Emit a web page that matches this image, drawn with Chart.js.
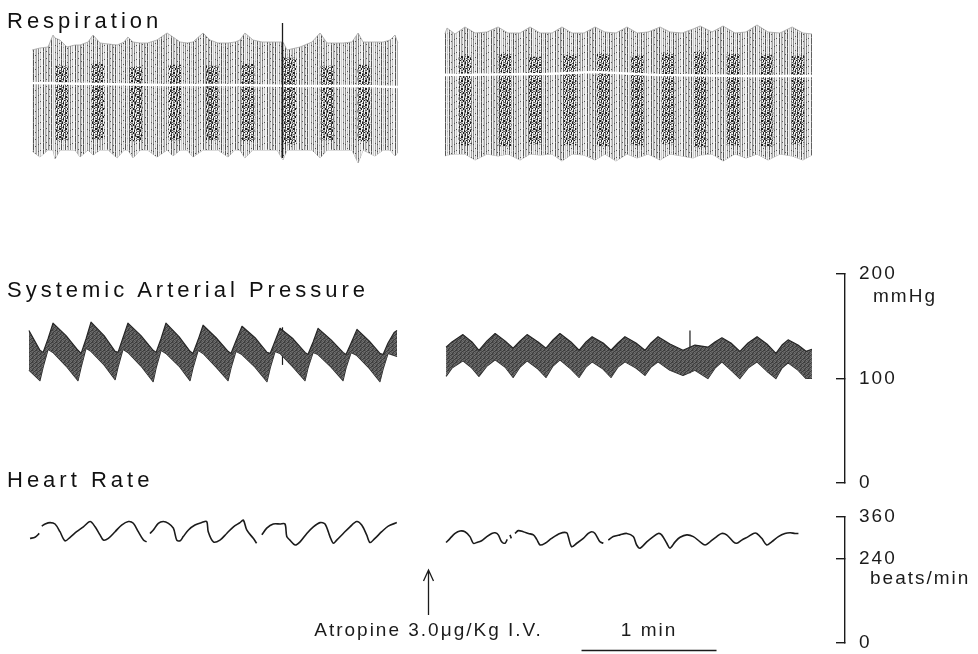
<!DOCTYPE html>
<html lang="en">
<head>
    <meta charset="UTF-8">
    <title>Atropine 3.0 μg/kg I.V. - respiration, arterial pressure, heart rate</title>
    <script src="https://cdn.jsdelivr.net/npm/chart.js"></script>
    <style>
* {
    margin: 0;
    padding: 0;
    box-sizing: border-box;
}

html, body {
    width: 978px;
    height: 654px;
    background: #fff;
    overflow: hidden;
}

body {
    position: relative;
    font-family: 'Liberation Sans', Arial, sans-serif;
    color: #111;
}

.trace {
    position: absolute;
    left: 0;
}

/* row titles, wide-spaced like the original typewriter lettering */
.label {
    position: absolute;
    left: 7px;
    font-size: 22px;
    line-height: 22px;
    letter-spacing: 4px;
    white-space: nowrap;
    z-index: 2;
}
    </style>
</head>

<body>
    <div class="label" style="top:10px">Respiration</div>
    <div class="label" style="top:279px">Systemic Arterial Pressure</div>
    <div class="label" style="top:469px">Heart Rate</div>

    <canvas id="respChart" class="trace" style="top:0" width="978" height="180"></canvas>
    <canvas id="bpChart" class="trace" style="top:250px" width="978" height="250"></canvas>
    <canvas id="hrChart" class="trace" style="top:500px" width="978" height="154"></canvas>

    <script>
        // time is in seconds from the start of the record, 1 min = 60
        const T_MIN = -8.9;
        const T_MAX = 363.1;
        const INJECTION_TIME = 177.8;
        const INJECTION_TEXT = 'Atropine 3.0μg/Kg I.V.';
        const BAR_START = 246;
        const BAR_LENGTH = 60;
        const BAR_TEXT = '1 min';

        const BP_TICKS = [0, 100, 200];
        const BP_UNIT = 'mmHg';
        const HR_TICKS = [0, 240, 360];
        const HR_UNIT = 'beats/min';

        // systemic arterial pressure envelopes (mmHg), before and after atropine
        const sapLeftTime = [0.4, 5.3, 6.7, 8.9, 11.1, 16.9, 22.2, 23.6, 25.8, 28.0, 33.8, 38.7, 40.0, 42.2, 44.4, 50.2,
            55.6, 56.9, 59.1, 61.3, 67.1, 72.0, 73.3, 75.6, 77.8, 83.6, 88.9, 90.2, 92.4, 95.1, 100.9, 106.2, 107.6,
            109.8, 112.0, 117.8, 123.1, 124.4, 126.7, 128.9, 134.7, 140.0, 141.3, 143.6, 146.2, 151.6, 156.4, 157.8,
            160.0, 162.7, 164.0];
        const sapLeftSystolic = [146, 127, 125, 138, 153, 141, 127, 124, 138, 154, 141, 126, 125, 139, 153, 141,
            127, 125, 138, 153, 140, 126, 124, 137, 151, 139, 126, 124, 136, 150, 139, 125, 124, 136, 148, 138,
            125, 123, 135, 148, 137, 125, 123, 134, 147, 136, 124, 123, 134, 144, 146];
        const sapLeftDiastolic = [108, 98, 111, 128, 125, 112, 98, 111, 129, 126, 113, 99, 111, 128, 125, 112,
            97, 110, 127, 124, 112, 98, 110, 127, 124, 111, 98, 110, 126, 123, 111, 97, 110, 126, 124, 111,
            98, 110, 125, 123, 111, 98, 110, 125, 122, 110, 97, 109, 124, 122, 121];

        const sapRightTime = [185.8, 188.4, 193.3, 197.3, 200.4, 204.0, 207.6, 212.0, 215.6, 218.7, 221.8, 226.7,
            230.2, 233.3, 236.4, 241.3, 244.9, 248.0, 250.7, 255.6, 259.1, 262.2, 265.3, 270.2, 274.2, 276.9, 280.0,
            285.3, 291.1, 296.4, 302.2, 305.3, 308.4, 312.4, 316.4, 320.0, 324.0, 328.4, 332.4, 335.1, 337.8, 342.2,
            345.8, 348.4];
        const sapRightSystolic = [130, 135, 142, 135, 127, 136, 143, 136, 129, 136, 142, 135, 129, 137, 143, 135,
            127, 135, 140, 134, 127, 134, 140, 134, 127, 134, 140, 133, 127, 132, 130, 135, 139, 134, 126, 134,
            140, 133, 124, 132, 137, 132, 126, 128];
        const sapRightDiastolic = [102, 110, 117, 110, 102, 112, 118, 111, 101, 111, 117, 109, 101, 112, 118, 109,
            101, 111, 116, 109, 101, 111, 116, 110, 103, 111, 116, 108, 103, 108, 100, 110, 116, 108, 100, 110,
            116, 107, 100, 110, 115, 108, 100, 100];

        // pen artefacts on the pressure trace
        const sapSpikeLeftTime = [113.1, 113.1];
        const sapSpikeLeftLevel = [113, 149];
        const sapSpikeRightTime = [294.2, 294.2];
        const sapSpikeRightLevel = [105, 146];

        // heart rate (beats/min), null where the pen lifts
        const hrLeftTime = [0.9, 3.1, 5.0, 5.6, 6.1, 7.6, 9.8, 12.0, 14.2, 16.4, 18.7, 21.6, 24.6, 27.6, 29.8,
            32.0, 33.5, 35.7, 38.7, 41.6, 44.6, 46.8, 49.0, 51.3, 52.7, 53.4, 54.2, 55.7, 57.9, 60.1, 62.4, 64.6,
            66.1, 67.6, 69.0, 71.3, 74.2, 77.2, 79.4, 80.1, 82.4, 85.3, 88.3, 91.3, 94.2, 95.7, 97.2, 100.1, 101.6,
            102.7, 103.9, 106.1, 109.0, 112.0, 114.2, 115.0, 116.4, 118.7, 120.9, 123.9, 126.8, 129.8, 132.0,
            134.2, 135.7, 137.2, 140.1, 143.1, 146.1, 148.3, 150.5, 152.0, 154.2, 157.2, 160.1, 163.9];
        const hrLeftRate = [299, 302, 313, null, 334, 340, 344, 340, 318, 292, 302, 318, 332, 347, 332,
            309, 294, 299, 318, 337, 347, 342, 318, 294, 289, null, 313, 323, 342, 347, 342, 328,
            294, 292, 304, 323, 337, 344, 347, 318, 289, 294, 313, 332, 344, 351, 323, 299, 285,
            null, 309, 328, 340, 340, 340, 304, 294, 280, 289, 313, 332, 344, 340,
            304, 285, 294, 313, 332, 347, 337, 309, 287, 299, 318, 334, 344];

        const hrRightTime = [185.8, 187.6, 189.8, 192.0, 194.2, 196.4, 197.9, 199.4, 201.6, 203.9, 206.1, 207.6,
            209.0, 210.5, 212.0, 213.0, 213.6, 214.2, 214.8, 215.6, 216.4, 217.9, 220.1, 222.4, 224.6, 226.1, 227.6,
            229.8, 232.7, 236.4, 239.4, 240.1, 241.6, 243.9, 246.8, 249.0, 250.5, 252.0, 254.2, 255.7, 256.8, 257.9,
            260.1, 263.1, 266.1, 269.0, 270.5, 272.0, 275.0, 277.9, 280.1, 281.6, 283.9, 285.3, 287.6, 289.8, 292.8,
            295.7, 298.7, 300.9, 303.1, 306.1, 308.3, 310.5, 313.5, 315.0, 317.2, 320.1, 322.4, 323.9, 326.1, 328.3,
            330.5, 333.5, 336.4, 338.7, 340.9, 342.4];
        const hrRightRate = [287, 299, 313, 320, 318, 304, 285, 287, 292, 304, 313, 315,
            309, 289, 285, 296, null, 309, 299, null, 313, 321, 318, 313, 309, 296, 280,
            285, 299, 313, 315, 304, 275, 285, 299, 313, 318, 313, 289, 285, null, 294,
            304, 309, 313, 304, 280, 271, 289, 304, 313, 309, 285, 271, 289, 302, 309,
            304, 289, 280, 289, 304, 313, 309, 289, 285, 294, 304, 313, 313, 299, 280,
            289, 304, 313, 315, 313, 313];

        // respiration: upper and lower edge of the breath-by-breath band (chart units)
        const respLeftTime = [1.8, 5.3, 8.9, 11.1, 12.0, 14.2, 17.3, 20.9, 23.1, 26.7, 28.9, 32.0, 35.6, 39.6, 42.7,
            44.4, 46.7, 49.8, 53.1, 57.3, 61.8, 64.4, 67.6, 70.7, 73.3, 77.8, 80.9, 84.4, 88.9, 92.0, 94.2, 96.4,
            100.0, 104.0, 107.6, 110.7, 113.3, 115.1, 120.9, 126.2, 129.8, 132.9, 136.4, 140.0, 144.0, 146.7, 148.9,
            154.2, 157.8, 160.9, 163.1, 164.4];
        const respLeftTop = [120, 122, 123, 135, 132, 130, 123, 125, 125, 128, 135, 127, 126, 125, 128,
            133, 128, 127, 127, 130, 137, 133, 128, 127, 128, 137, 130, 127, 127, 128, 130, 137,
            130, 128, 128, 128, 128, 120, 123, 128, 137, 127, 127, 127, 128, 137, 128,
            128, 128, 130, 135, 127];
        const respLeftBottom = [19, 13, 20, 20, 11, 20, 20, 20, 13, 20, 15, 20, 20, 12, 20,
            20, 12, 20, 20, 13, 20, 14, 20, 20, 13, 20, 20, 20, 13, 20, 20, 12,
            20, 20, 20, 20, 10, 20, 20, 20, 12, 20, 20, 20, 20, 7, 20,
            14, 20, 20, 14, 18];

        const respRightTime = [185.3, 186.2, 189.8, 194.2, 198.7, 204.0, 208.9, 213.3, 218.7, 223.1, 227.6, 232.9,
            237.3, 241.8, 247.1, 252.0, 256.4, 261.3, 266.2, 270.7, 275.6, 280.9, 285.3, 290.7, 295.6, 298.7, 304.0,
            308.9, 314.2, 319.1, 324.0, 328.9, 334.2, 339.6, 344.4, 348.4];
        const respRightTop = [136, 142, 136, 143, 137, 138, 143, 137, 137, 143, 137, 137,
            143, 137, 137, 143, 138, 137, 143, 137, 138, 143, 138, 137, 141, 144, 138,
            144, 137, 138, 145, 138, 137, 143, 137, 136];
        const respRightBottom = [14, 15, 16, 16, 10, 16, 14, 16, 10, 16, 15, 16,
            9, 16, 15, 10, 16, 9, 16, 12, 16, 10, 16, 14, 12, 15, 16,
            9, 16, 12, 16, 10, 16, 14, 10, 15];

        // resting level of the respiration pen (white gap through the band)
        const respBaseLeftTime = [1.8, 30, 60, 90, 120, 150, 164.4];
        const respBaseLeftLevel = [87, 86, 85, 85, 84, 84, 83];
        const respBaseRightTime = [185.3, 230, 252, 280, 320, 348.4];
        const respBaseRightLevel = [95, 96, 98, 95, 94, 94];

        // denser groups of breaths, one per pressure wave
        const burstTime = [15.1, 31.1, 48.0, 65.3, 81.8, 97.8, 116.4, 132.9, 149.3,
            194.2, 212.0, 225.3, 240.9, 255.6, 270.7, 284.4, 298.7, 313.3, 328.4, 342.2];
        const burstLow = [30, 31, 29, 30, 30, 29, 26, 30, 29, 25, 24, 26, 25, 24, 25, 26, 23, 25, 24, 26];
        const burstHigh = [104, 106, 103, 105, 104, 106, 112, 104, 105, 114, 116, 113, 115, 116, 114, 117, 118, 116, 115, 114];

        const respEventTime = [113.1, 113.1];
        const respEventLevel = [12, 147];

        const FONT = "'Liberation Sans', Arial, sans-serif";
        const INK = '#1b1b1b';

        const pts = (ts, vs) => ts.map((t, i) => ({ x: t, y: vs[i] }));

        function makePattern(canvasId, rows, palette) {
            const tile = document.createElement('canvas');
            tile.width = rows[0].length;
            tile.height = rows.length;
            const g = tile.getContext('2d');
            rows.forEach((row, y) => {
                [...row].forEach((ch, x) => {
                    g.fillStyle = palette[ch];
                    g.fillRect(x, y, 1, 1);
                });
            });
            return document.getElementById(canvasId).getContext('2d').createPattern(tile, 'repeat');
        }

        // vertical pen strokes of single breaths, slightly irregular
        const bandPattern = makePattern('respChart', [
            'WkWlmWdWlWWkWmlWdlWkWlWmWdWlWkWl',
            'WkWlmWdWlWWkWmlWdlWkWlWmWdWkWkWl',
            'WkWlmWdWlWWdWmkWdlWkWlWmWdWlWkWl',
            'WdWlmWdWkWWkWmlWdlWkWlWkWdWlWdWl',
            'WkWlmWkWlWWkWmlWdlWdWlWmWkWlWkWl',
            'WkWlmWdWlWWkWmlWdkWkWlWmWdWlWkWm',
            'WkWkmWdWlWWkWmlWdlWkWlWmWdWlWkWl'
        ], { d: '#8a8a8a', l: '#cdcdcd', m: '#a8a8a8', W: '#f4f4f4', k: '#555555' });

        const burstPattern = makePattern('respChart', [
            'k..g.k',
            'k.g..k',
            '..k.g.',
            'g.k..g',
            '.k..k.',
            '.k.g..',
            'g..k.g',
            '..gk..'
        ], { k: '#1e1e1e', g: '#6a6a6a', '.': 'rgba(0,0,0,0)' });

        const pressurePattern = makePattern('bpChart', [
            'abca',
            'cbab',
            'bacb',
            'abbc'
        ], { a: '#3d3d3d', b: '#585858', c: '#707070' });

        // wide lettering on every canvas text
        const spacing = {
            id: 'spacing',
            beforeLayout(chart) { chart.ctx.letterSpacing = '2px'; },
            beforeDraw(chart) { chart.ctx.letterSpacing = '2px'; }
        };

        // unit written under one tick of the right-hand scale
        const unitLabel = {
            id: 'unitLabel',
            afterDraw(chart, args, opts) {
                const s = chart.scales.y;
                const ctx = chart.ctx;
                ctx.save();
                ctx.letterSpacing = '2px';
                ctx.font = '19px ' + FONT;
                ctx.fillStyle = INK;
                ctx.textBaseline = 'middle';
                ctx.fillText(opts.text, s.left + opts.dx, s.getPixelForValue(opts.value) + opts.dy);
                ctx.restore();
            }
        };

        // injection arrow and the time bar under the heart rate trace
        const atropineMark = {
            id: 'atropineMark',
            afterDraw(chart) {
                const x = chart.scales.x;
                const ctx = chart.ctx;
                const ax = Math.round(x.getPixelForValue(INJECTION_TIME)) + 0.5;
                const b0 = x.getPixelForValue(BAR_START);
                const b1 = x.getPixelForValue(BAR_START + BAR_LENGTH);
                ctx.save();
                ctx.strokeStyle = INK;
                ctx.lineWidth = 1.3;
                ctx.beginPath();
                ctx.moveTo(ax, 115);
                ctx.lineTo(ax, 70);
                ctx.moveTo(ax - 5, 81);
                ctx.lineTo(ax, 70);
                ctx.lineTo(ax + 5, 81);
                ctx.stroke();
                ctx.lineWidth = 1.5;
                ctx.beginPath();
                ctx.moveTo(b0, 150.5);
                ctx.lineTo(b1, 150.5);
                ctx.stroke();
                ctx.letterSpacing = '2px';
                ctx.font = '19px ' + FONT;
                ctx.fillStyle = INK;
                ctx.textAlign = 'center';
                ctx.textBaseline = 'middle';
                ctx.fillText(INJECTION_TEXT, ax, 131);
                ctx.fillText(BAR_TEXT, (b0 + b1) / 2, 131);
                ctx.restore();
            }
        };

        function timeAxis() {
            return { type: 'linear', min: T_MIN, max: T_MAX, offset: false, display: false };
        }

        function rightAxis(max, ticks) {
            return {
                position: 'right',
                min: 0,
                max: max,
                afterFit: s => {
                    s.width = 133;
                    // the layout padding already leaves room for the end labels
                    s.paddingTop = 0;
                    s.paddingBottom = 0;
                },
                afterBuildTicks: s => { s.ticks = ticks.map(v => ({ value: v })); },
                grid: { drawOnChartArea: false, tickLength: -9, color: INK, lineWidth: 1.4 },
                border: { display: true, color: INK, width: 1.4 },
                ticks: { color: INK, padding: 23, font: { family: FONT, size: 19 } }
            };
        }

        const common = {
            animation: false,
            responsive: false,
            events: [],
            elements: { point: { radius: 0 }, line: { borderJoinStyle: 'round' } }
        };

        new Chart(document.getElementById('respChart'), {
            type: 'line',
            data: {
                datasets: [
                    { data: pts(respLeftTime, respLeftTop), fill: 1, backgroundColor: bandPattern,
                      borderColor: '#a6a6a6', borderWidth: 0.8, order: 3 },
                    { data: pts(respLeftTime, respLeftBottom), fill: false,
                      borderColor: '#a6a6a6', borderWidth: 0.8, order: 3 },
                    { data: pts(respRightTime, respRightTop), fill: 3, backgroundColor: bandPattern,
                      borderColor: '#a6a6a6', borderWidth: 0.8, order: 3 },
                    { data: pts(respRightTime, respRightBottom), fill: false,
                      borderColor: '#a6a6a6', borderWidth: 0.8, order: 3 },
                    { type: 'bar', data: burstTime.map((t, i) => ({ x: t, y: [burstLow[i], burstHigh[i]] })),
                      backgroundColor: burstPattern, barThickness: 12, grouped: false, order: 2 },
                    { data: pts(respBaseLeftTime, respBaseLeftLevel), borderColor: '#ffffff', borderWidth: 2.5, order: 1 },
                    { data: pts(respBaseRightTime, respBaseRightLevel), borderColor: '#ffffff', borderWidth: 2.5, order: 1 },
                    { data: pts(respEventTime, respEventLevel), borderColor: INK, borderWidth: 1.3, order: 0 }
                ]
            },
            options: {
                ...common,
                layout: { padding: { left: 8, right: 133, top: 20, bottom: 10 } },
                plugins: { legend: { display: false }, tooltip: { enabled: false } },
                scales: { x: timeAxis(), y: { min: 0, max: 150, display: false } }
            },
            plugins: [spacing]
        });

        new Chart(document.getElementById('bpChart'), {
            type: 'line',
            data: {
                datasets: [
                    { data: pts(sapLeftTime, sapLeftSystolic), fill: 1, backgroundColor: pressurePattern,
                      borderColor: '#262626', borderWidth: 1.2 },
                    { data: pts(sapLeftTime, sapLeftDiastolic), fill: false, borderColor: '#262626', borderWidth: 1.2 },
                    { data: pts(sapRightTime, sapRightSystolic), fill: 3, backgroundColor: pressurePattern,
                      borderColor: '#262626', borderWidth: 1.2 },
                    { data: pts(sapRightTime, sapRightDiastolic), fill: false, borderColor: '#262626', borderWidth: 1.2 },
                    { data: pts(sapSpikeLeftTime, sapSpikeLeftLevel), borderColor: INK, borderWidth: 1.2 },
                    { data: pts(sapSpikeRightTime, sapSpikeRightLevel), borderColor: INK, borderWidth: 1.2 }
                ]
            },
            options: {
                ...common,
                layout: { padding: { left: 8, right: 0, top: 24, bottom: 17 } },
                plugins: {
                    legend: { display: false },
                    tooltip: { enabled: false },
                    unitLabel: { text: BP_UNIT, value: 200, dx: 28, dy: 23 }
                },
                scales: { x: timeAxis(), y: rightAxis(200, BP_TICKS) }
            },
            plugins: [spacing, unitLabel]
        });

        new Chart(document.getElementById('hrChart'), {
            type: 'line',
            data: {
                datasets: [
                    { data: pts(hrLeftTime, hrLeftRate), borderColor: INK, borderWidth: 1.6, tension: 0.3 },
                    { data: pts(hrRightTime, hrRightRate), borderColor: INK, borderWidth: 1.6, tension: 0.3 }
                ]
            },
            options: {
                ...common,
                layout: { padding: { left: 8, right: 0, top: 17, bottom: 11 } },
                plugins: {
                    legend: { display: false },
                    tooltip: { enabled: false },
                    unitLabel: { text: HR_UNIT, value: 240, dx: 25, dy: 20 }
                },
                scales: { x: timeAxis(), y: rightAxis(360, HR_TICKS) }
            },
            plugins: [spacing, unitLabel, atropineMark]
        });
    </script>
</body>
</html>
